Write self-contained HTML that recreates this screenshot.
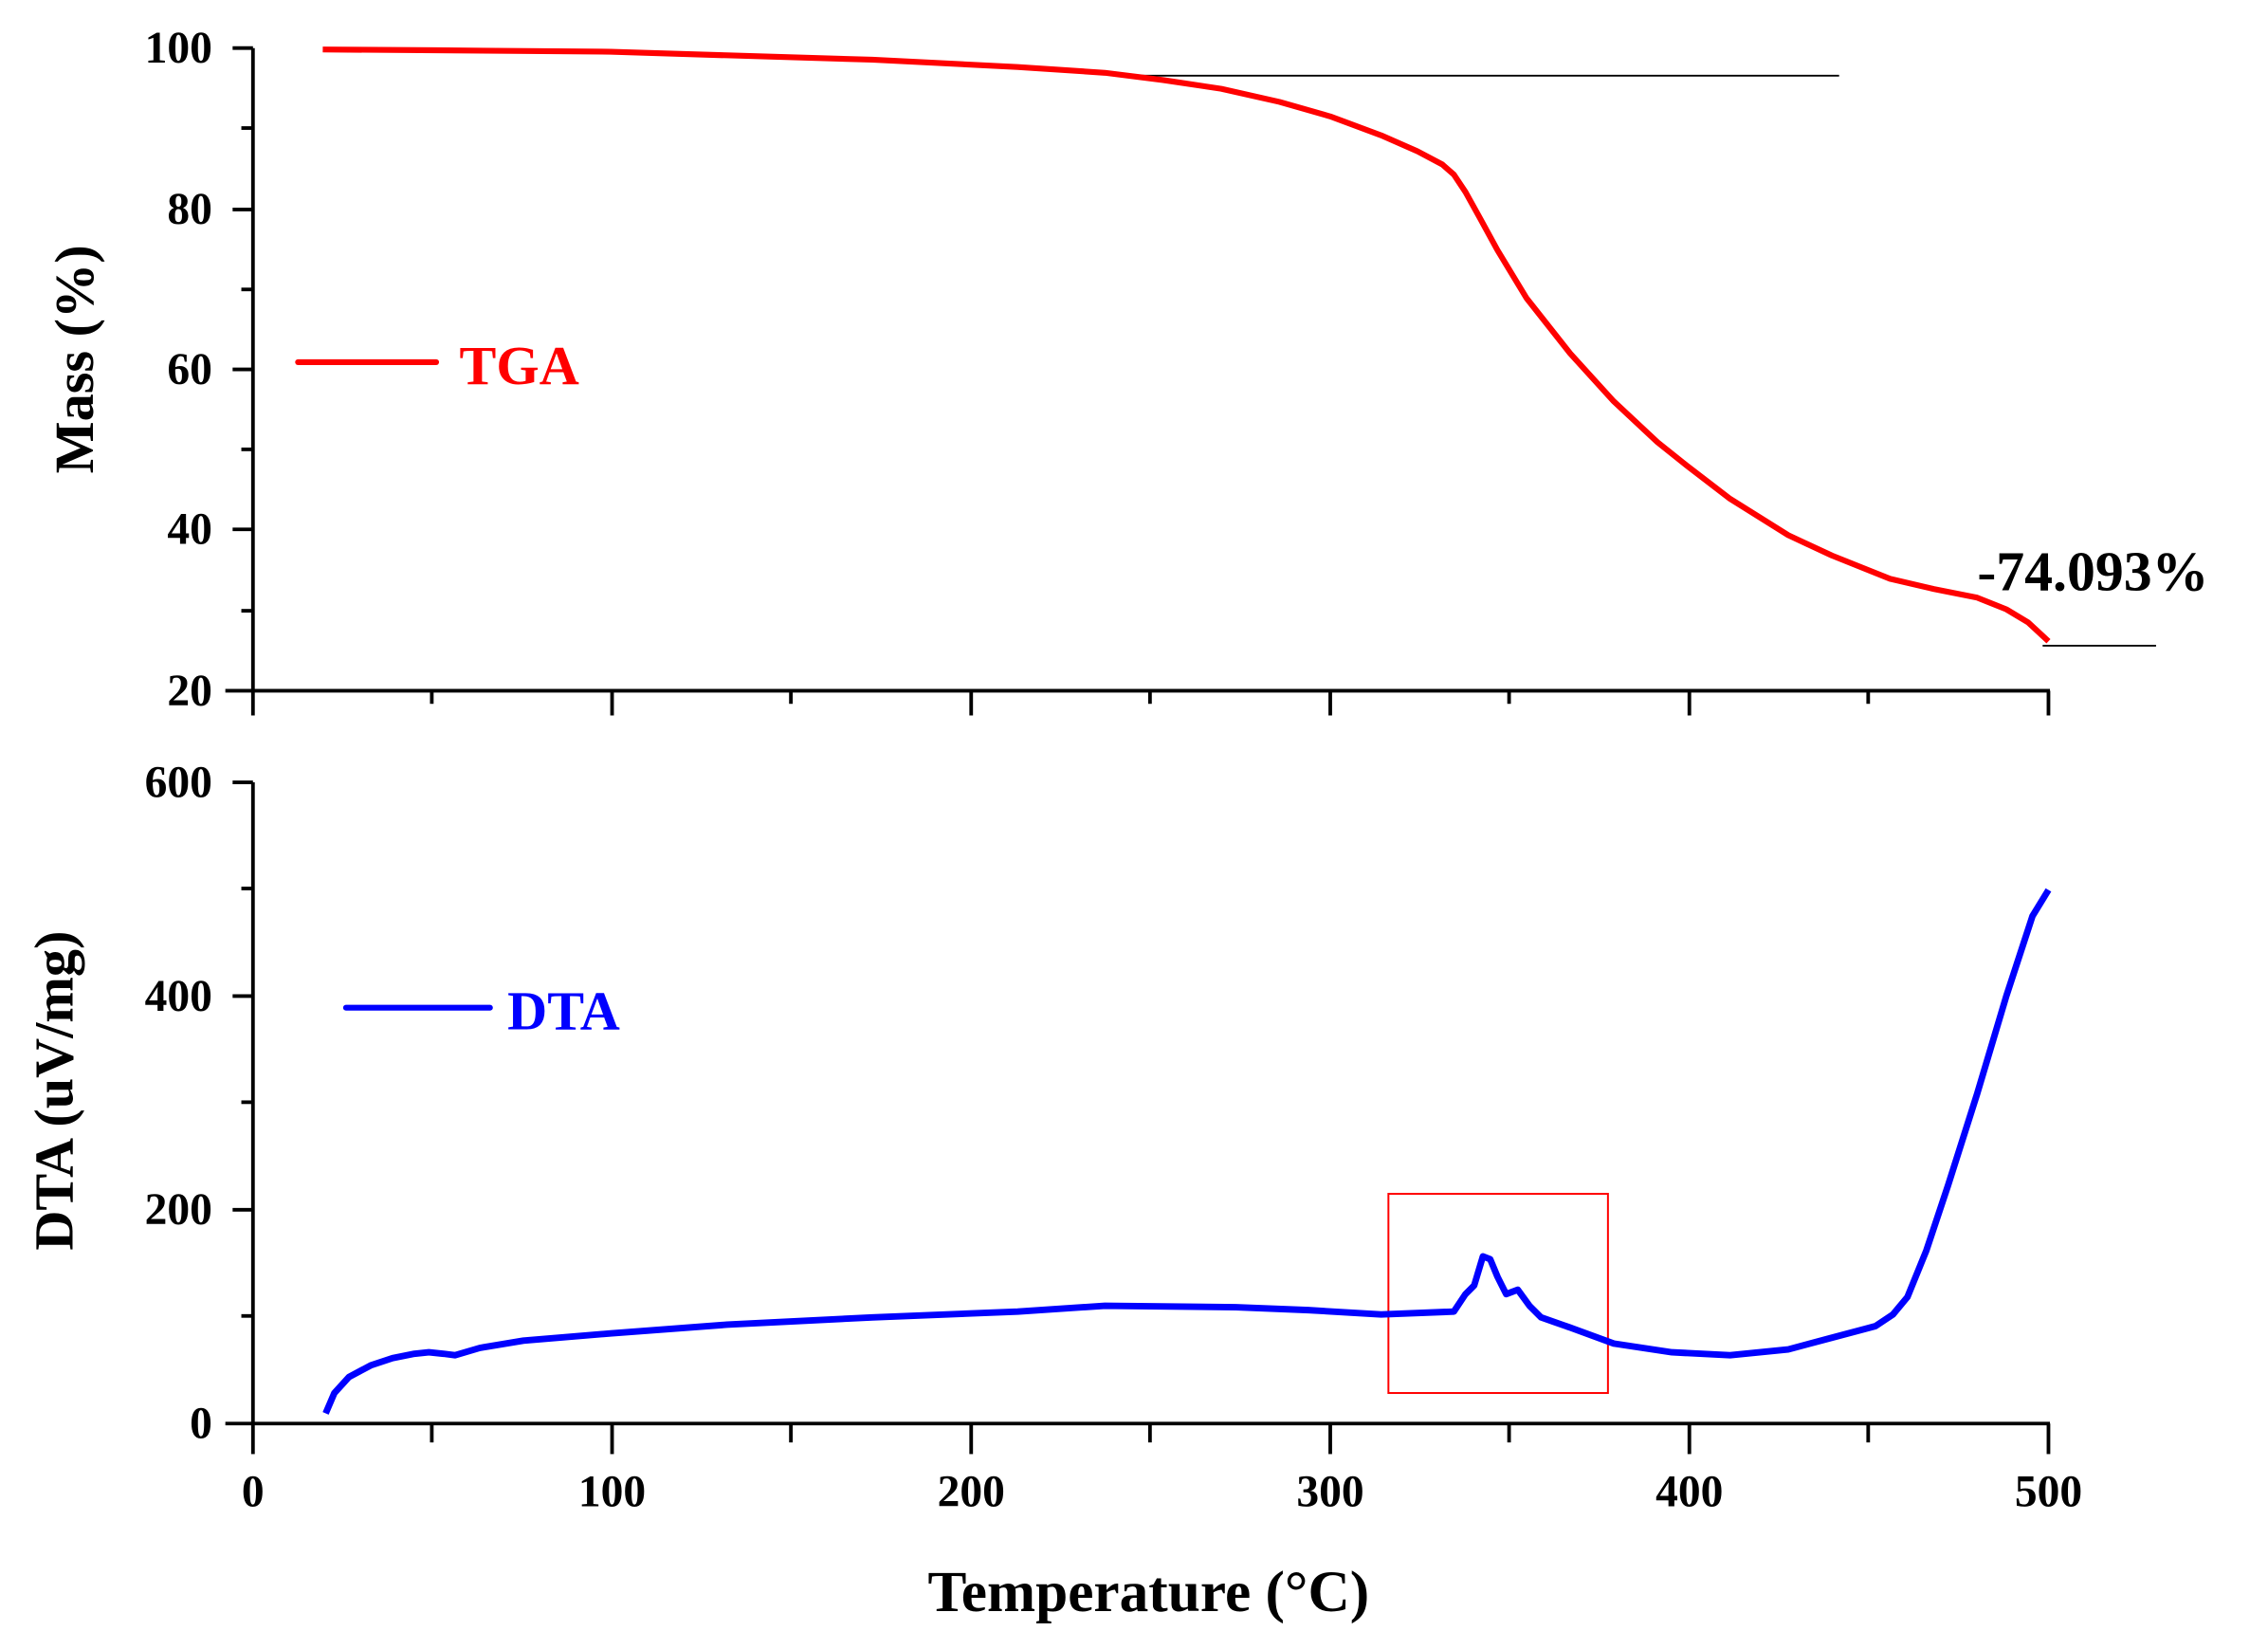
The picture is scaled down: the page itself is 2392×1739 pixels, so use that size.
<!DOCTYPE html>
<html><head><meta charset="utf-8"><style>html,body{margin:0;padding:0;background:#fff}svg{display:block}</style></head>
<body>
<svg width="2392" height="1739" viewBox="0 0 1560 1134" xmlns="http://www.w3.org/2000/svg" font-family="'Liberation Serif', serif" font-weight="bold">
<rect width="1560" height="1134" fill="#fff"/>
<!-- top axes -->
<g stroke="#000" stroke-width="2.5" fill="none">
<line x1="174" y1="33" x2="174" y2="476"/>
<line x1="155" y1="475" x2="1410" y2="475"/>
<line x1="160" y1="33" x2="174" y2="33"/><line x1="166" y1="88" x2="174" y2="88"/>
<line x1="160" y1="144" x2="174" y2="144"/><line x1="166" y1="199" x2="174" y2="199"/>
<line x1="160" y1="254" x2="174" y2="254"/><line x1="166" y1="309" x2="174" y2="309"/>
<line x1="160" y1="364" x2="174" y2="364"/><line x1="166" y1="420" x2="174" y2="420"/>
<line x1="174" y1="475" x2="174" y2="492"/><line x1="297" y1="475" x2="297" y2="484"/>
<line x1="421" y1="475" x2="421" y2="492"/><line x1="544" y1="475" x2="544" y2="484"/>
<line x1="668" y1="475" x2="668" y2="492"/><line x1="791" y1="475" x2="791" y2="484"/>
<line x1="915" y1="475" x2="915" y2="492"/><line x1="1038" y1="475" x2="1038" y2="484"/>
<line x1="1162" y1="475" x2="1162" y2="492"/><line x1="1285" y1="475" x2="1285" y2="484"/>
<line x1="1409" y1="475" x2="1409" y2="492"/>
</g>
<g font-size="31" text-anchor="end">
<text x="146" y="43">100</text><text x="146" y="154">80</text><text x="146" y="264">60</text>
<text x="146" y="374">40</text><text x="146" y="485">20</text>
</g>
<text transform="translate(64,247) rotate(-90)" font-size="38" text-anchor="middle">Mass (%)</text>
<line x1="780" y1="52" x2="1265" y2="52" stroke="#000" stroke-width="1.2"/>
<line x1="1405" y1="444" x2="1483" y2="444" stroke="#000" stroke-width="1.2"/>
<polyline fill="none" stroke="#f00" stroke-width="4" stroke-linejoin="round" points="222,34 300,34.5 420,35.5 500,38 600,41 700,46 760,50 800,55 840,61 880,70 915,80 950,93 975,104 992,113 1000,120 1008,132 1018,150 1030,172 1050,205 1080,243 1110,276 1140,304 1160,320 1190,343 1230,368 1260,382 1300,398 1330,405 1360,411 1380,419 1395,428 1409,441"/>
<line x1="205" y1="249" x2="300" y2="249" stroke="#f00" stroke-width="4" stroke-linecap="round"/>
<text x="316" y="264" fill="#f00" font-size="38">TGA</text>
<text x="1360" y="406" font-size="39" fill="#000">-74.093%</text>
<!-- bottom axes -->
<g stroke="#000" stroke-width="2.5" fill="none">
<line x1="174" y1="538" x2="174" y2="980"/>
<line x1="155" y1="979" x2="1410" y2="979"/>
<line x1="160" y1="538" x2="174" y2="538"/><line x1="166" y1="611" x2="174" y2="611"/>
<line x1="160" y1="685" x2="174" y2="685"/><line x1="166" y1="758" x2="174" y2="758"/>
<line x1="160" y1="832" x2="174" y2="832"/><line x1="166" y1="905" x2="174" y2="905"/>
<line x1="174" y1="979" x2="174" y2="1000"/><line x1="297" y1="979" x2="297" y2="992"/>
<line x1="421" y1="979" x2="421" y2="1000"/><line x1="544" y1="979" x2="544" y2="992"/>
<line x1="668" y1="979" x2="668" y2="1000"/><line x1="791" y1="979" x2="791" y2="992"/>
<line x1="915" y1="979" x2="915" y2="1000"/><line x1="1038" y1="979" x2="1038" y2="992"/>
<line x1="1162" y1="979" x2="1162" y2="1000"/><line x1="1285" y1="979" x2="1285" y2="992"/>
<line x1="1409" y1="979" x2="1409" y2="1000"/>
</g>
<g font-size="31" text-anchor="end">
<text x="146" y="548">600</text><text x="146" y="695">400</text><text x="146" y="842">200</text><text x="146" y="989">0</text>
</g>
<g font-size="31" text-anchor="middle">
<text x="174" y="1036">0</text><text x="421" y="1036">100</text><text x="668" y="1036">200</text>
<text x="915" y="1036">300</text><text x="1162" y="1036">400</text><text x="1409" y="1036">500</text>
</g>
<text transform="translate(50,750) rotate(-90)" font-size="38" text-anchor="middle">DTA (uV/mg)</text>
<text x="790" y="1108" font-size="40" text-anchor="middle">Temperature (°C)</text>
<rect x="955" y="821" width="151" height="137" fill="none" stroke="#f00" stroke-width="1.3"/>
<polyline fill="none" stroke="#00f" stroke-width="4.5" stroke-linejoin="round" points="224,972 230,958 240,947 255,939 270,934 285,931 295,930 305,931 313,932 330,927 360,922 420,917 500,911 600,906 700,902 760,898 850,899 900,901 950,904 1000,902 1008,890 1014,884 1020,864 1025,866 1030,878 1036,890 1044,887 1052,898 1060,906 1080,913 1110,924 1150,930 1190,932 1230,928 1260,920 1290,912 1302,904 1312,892 1325,860 1340,815 1360,752 1380,685 1398,630 1409,612"/>
<line x1="238" y1="693" x2="337" y2="693" stroke="#00f" stroke-width="4" stroke-linecap="round"/>
<text x="349" y="708" fill="#00f" font-size="38">DTA</text>
</svg>
</body></html>
